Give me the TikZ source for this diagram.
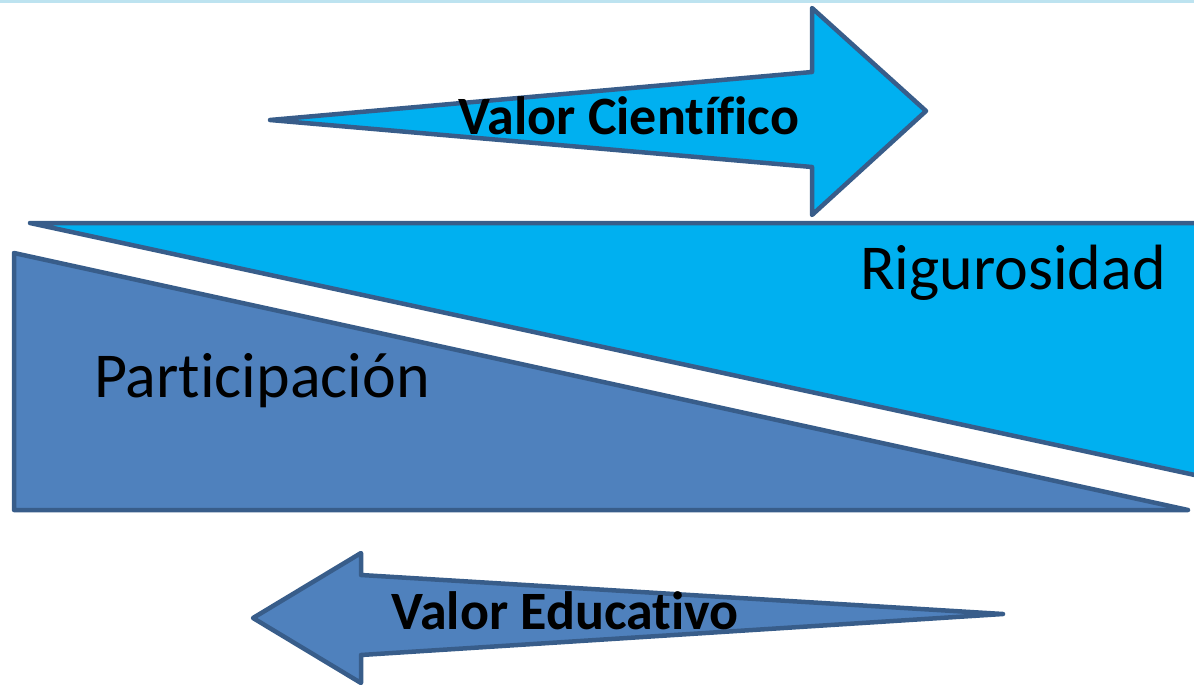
\documentclass[tikz,border=0pt]{standalone}
\usepackage{fontspec}
\setmainfont[RawFeature={-liga;-clig;-calt;-dlig;-rlig}]{Carlito}
\usetikzlibrary{positioning,calc}

\definecolor{skyfill}{HTML}{00B0F0}
\definecolor{steelfill}{HTML}{4F81BD}
\definecolor{edgeblue}{HTML}{385D8A}
\definecolor{topband}{HTML}{BDE3F0}

\begin{document}
\begin{tikzpicture}[x=1pt, y=-1pt]

        % one unit is one pixel of the slide, y runs downwards
        \tikzset{
            shape edge/.style={draw=edgeblue, line width=4.5pt, line join=round},
            label big/.style={font=\fontsize{64}{70}\selectfont, inner sep=0pt},
            label bold/.style={font=\bfseries\fontsize{54}{60}\selectfont, inner sep=0pt}
        }

        \clip (0,0) rectangle (1194,685);

        % thin band along the top of the slide
        \draw[topband, line width=4pt] (0,1) -- (1194,1);

        % wedges
        \begin{scope}
            \coordinate (R1) at (30,223);
            \coordinate (R2) at (1204,223);
            \coordinate (R3) at (1204,477);
            \filldraw[shape edge, fill=skyfill] (R1) -- (R2) -- (R3) -- cycle;

            \coordinate (P1) at (14,253);
            \coordinate (P2) at (14,510);
            \coordinate (P3) at (1188,510);
            \filldraw[shape edge, fill=steelfill] (P1) -- (P2) -- (P3) -- cycle;
        \end{scope}

        % arrows
        \begin{scope}
            \filldraw[shape edge, fill=skyfill]
                (270,120) -- (812,72) -- (812,8) -- (926,111)
                -- (812,215) -- (812,167) -- cycle;
            \filldraw[shape edge, fill=steelfill]
                (1003,614) -- (361,575) -- (361,553) -- (253,618)
                -- (361,683) -- (361,655) -- cycle;
        \end{scope}

        % texts
        \node[label big] (rig) at (1013,273) {Rigurosidad};
        \node[label big] (par) at (262,381) {Participación};
        \node[label bold] (cie) at (629,116) {Valor Científico};
        \node[label bold] (edu) at (565,611) {Valor Educativo};

\end{tikzpicture}
\end{document}
